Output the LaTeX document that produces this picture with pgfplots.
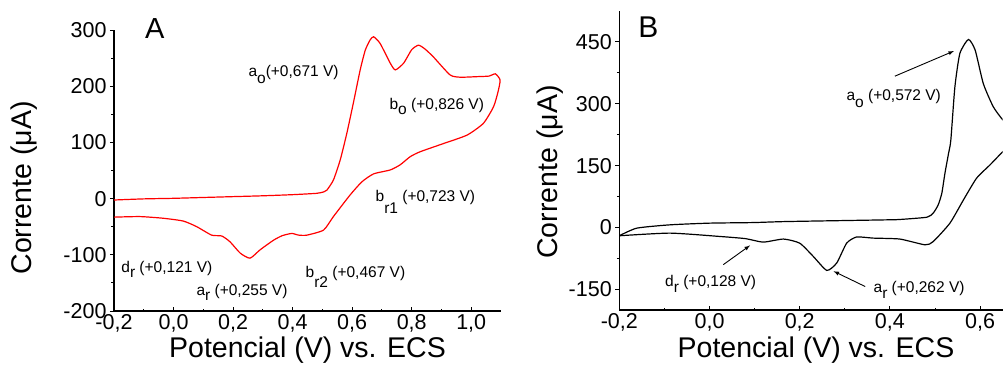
\documentclass[border=0pt]{standalone}
\usepackage{pgfplots}
\pgfplotsset{compat=1.18}
\usepackage{fontspec}
\setmainfont{Liberation Sans}
\newcommand{\ann}{\fontsize{15.5}{18}\selectfont}
\begin{document}
\begin{tikzpicture}
\useasboundingbox (0pt,0pt) rectangle (1003pt,372pt);
\pgfplotsset{
  cv/.style={
    scale only axis,
    anchor=south west,
    axis x line*=bottom, axis y line*=left,
    axis line style={line width=1.1pt},
    every tick/.style={line width=0.9pt, black},
    major tick length=4pt, minor tick length=2.5pt,
    xtick align=inside, ytick align=outside,
    /pgf/number format/assume math mode=true,
    ticklabel style={font=\fontsize{21.5}{24}\selectfont},
    xticklabel style={/pgf/number format/.cd, use comma, fixed, fixed zerofill, precision=1},
    yticklabel style={/pgf/number format/.cd, fixed, precision=0},
    label style={font=\fontsize{28.5}{32}\selectfont},
    clip mode=individual,
  }
}
% ---------------- Panel A ----------------
\begin{axis}[cv,
  at={(114pt,61pt)}, width=387pt, height=281pt,
  xmin=-0.2, xmax=1.1, ymin=-200, ymax=300,
  xtick={-0.2,0,0.2,0.4,0.6,0.8,1.0},
  minor xtick={-0.1,0.1,0.3,0.5,0.7,0.9},
  ytick={-200,-100,0,100,200,300},
  minor ytick={-150,-50,50,150,250},
  xlabel={Potencial (V) vs. ECS},
  ylabel={Corrente (μA)},
  xlabel style={at={(axis description cs:0.5,-0.167)}, anchor=base},
  ylabel style={at={(axis description cs:-0.233,0.438)}, anchor=center},
]
\addplot[red, line width=1.2pt, smooth, tension=0.35] coordinates {
(-0.2,-2.5) (-0.1,-0.5) (0.0,0.5) (0.1,2) (0.2,3.5) (0.3,5) (0.4,7) (0.481,9.4)
(0.505,12) (0.515,15) (0.537,33) (0.56,69) (0.582,116) (0.604,170) (0.627,229)
(0.644,264) (0.66,282) (0.672,288) (0.694,276) (0.728,241) (0.745,229) (0.773,241)
(0.800,265) (0.823,273) (0.845,266) (0.873,252) (0.929,220) (0.963,216) (1.02,217)
(1.060,218) (1.081,222) (1.097,211)
(1.09,190) (1.075,163.5) (1.041,134) (0.986,113) (0.907,98) (0.829,83.5) (0.795,74.6)
(0.761,60) (0.728,51) (0.672,44) (0.633,30) (0.593,6.4) (0.537,-32) (0.504,-56)
(0.448,-65) (0.42,-65) (0.397,-62) (0.365,-66) (0.336,-74) (0.291,-91) (0.257,-106)
(0.224,-97) (0.19,-77) (0.162,-66.5) (0.128,-65) (0.078,-50) (0.033,-40)
(-0.034,-35) (-0.113,-32) (-0.2,-33)
};
\node[anchor=base west, font=\ann] at (axis cs:0.240,218) {a\raisebox{-0.45em}{o}(+0,671 V)};
\node[anchor=base west, font=\ann] at (axis cs:0.714,158) {b\raisebox{-0.3em}{o} (+0,826 V)};
\node[anchor=base west, font=\ann] at (axis cs:0.667,-6) {b\raisebox{-0.72em}{r1} (+0,723 V)};
\node[anchor=base west, font=\ann] at (axis cs:0.432,-141) {b\raisebox{-0.6em}{r2} (+0,467 V)};
\node[anchor=base west, font=\ann] at (axis cs:-0.187,-132) {d\raisebox{-0.33em}{r} (+0,121 V)};
\node[anchor=base west, font=\ann] at (axis cs:0.0655,-173) {a\raisebox{-0.3em}{r} (+0,255 V)};
\node[anchor=base west, inner sep=0pt, font=\fontsize{29}{32}\selectfont] at (axis description cs:0.080,0.971) {A};
\end{axis}
% ---------------- Panel B ----------------
\begin{axis}[cv,
  at={(619.3pt,62pt)}, width=383.4pt, height=299pt,
  xmin=-0.2, xmax=0.65, ymin=-200, ymax=525,
  xtick={-0.2,0,0.2,0.4,0.6},
  minor xtick={-0.1,0.1,0.3,0.5},
  ytick={-150,0,150,300,450},
  minor ytick={-75,75,225,375},
  xlabel={Potencial (V) vs. ECS},
  ylabel={Corrente (μA)},
  xlabel style={at={(axis description cs:0.513,-0.1605)}, anchor=base},
  ylabel style={at={(axis description cs:-0.181,0.4615)}, anchor=center},
]
\addplot[black, line width=1.2pt, smooth, tension=0.35] coordinates {
(-0.2,-20) (-0.161,-1.5) (-0.0876,6.5) (0.0,10.6) (0.097,12) (0.171,14.5) (0.393,18.6)
(0.422,19.5) (0.482,25) (0.496,35) (0.507,55) (0.515,83) (0.522,132) (0.530,180)
(0.535,212) (0.544,341) (0.555,422) (0.574,456)
(0.589,430) (0.607,349) (0.629,293) (0.651,260) (0.67,245)
};
\addplot[black, line width=1.2pt, smooth, tension=0.35] coordinates {
(0.67,205) (0.648,181.5) (0.622,152) (0.592,119.5) (0.563,67) (0.533,10.6) (0.496,-34)
(0.478,-42) (0.422,-28) (0.363,-25.7) (0.326,-23) (0.304,-38) (0.282,-86) (0.260,-104)
(0.230,-70) (0.2,-38) (0.164,-28) (0.119,-35.4) (0.08,-27) (0.023,-21.7) (-0.0875,-13.6)
(-0.2,-20)
};
\node[anchor=base west, font=\ann] at (axis cs:0.296,309) {a\raisebox{-0.5em}{o} (+0,572 V)};
\node[anchor=base west, font=\ann] at (axis cs:-0.106,-143.5) {d\raisebox{-0.4em}{r} (+0,128 V)};
\node[anchor=base west, font=\ann] at (axis cs:0.356,-158) {a\raisebox{-0.4em}{r} (+0,262 V)};
\draw[-latex, line width=0.9pt] (axis cs:0.411,367) -- (axis cs:0.542,428);
\draw[-latex, line width=0.9pt] (axis cs:0.0306,-90) -- (axis cs:0.0898,-43.5);
\draw[-latex, line width=0.9pt] (axis cs:0.345,-143) -- (axis cs:0.275,-106);
\node[anchor=base west, inner sep=0pt, font=\fontsize{30}{32}\selectfont] at (axis description cs:0.049,0.91) {B};
\end{axis}
\end{tikzpicture}
\end{document}
